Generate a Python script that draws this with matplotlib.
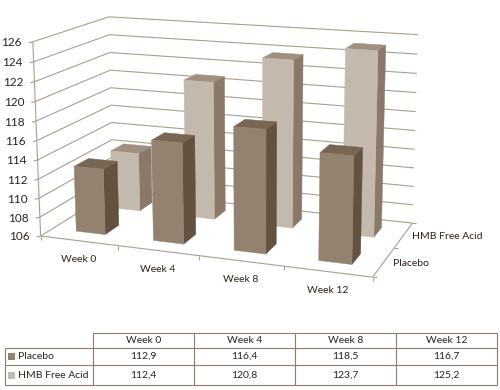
import numpy as np
import matplotlib
matplotlib.use("Agg")
import matplotlib.pyplot as plt
from matplotlib.patches import Polygon, Rectangle

plt.rcParams['font.family'] = ['Lato', 'DejaVu Sans']

#dados
semanas = ["Week 0", "Week 4", "Week 8", "Week 12"]
series = ["Placebo", "HMB Free Acid"]
placebo = [112.9, 116.4, 118.5, 116.7]
hmb = [112.4, 120.8, 123.7, 125.2]
ticks_z = list(range(106, 128, 2))
textos_tabela = [["112,9", "116,4", "118,5", "116,7"], ["112,4", "120,8", "123,7", "125,2"]]

#cores (frente, lado, topo)
cores = {"Placebo": ("#938270", "#645240", "#786553"),
         "HMB Free Acid": ("#C4B9AD", "#8A7968", "#A09080")}
cor_linha = "#AB9D8E"
cor_texto = "#2B2118"

#perspetiva: pontos de referencia do cubo (semana, serie, valor) -> pixel
cubo = [(0, 0, 106), (0, 0, 126), (4, 0, 106), (4, 2, 106), (4, 2, 126), (0, 2, 106), (0, 2, 124), (0, 2, 126)]
pixels = [(41, 236), (33, 41), (372, 278), (413, 222), (418, 35), (113, 191), (110, 35), (108, 17)]

A = []
b = []
for (x, y, z), (u, v) in zip(cubo, pixels):
    A.append([x, y, z, 1, 0, 0, 0, 0, -u*x, -u*y, -u*z])
    A.append([0, 0, 0, 0, x, y, z, 1, -v*x, -v*y, -v*z])
    b += [u, v]
H = np.linalg.lstsq(np.array(A, float), np.array(b, float), rcond=None)[0]
H = np.append(H, 1).reshape(3, 4)


def proj(x, y, z):
    p = H @ np.array([x, y, z, 1.0])
    return p[0]/p[2], p[1]/p[2]


fig = plt.figure(figsize=(5, 3.9), dpi=100)
ax = fig.add_axes([0, 0, 1, 1])
ax.set_xlim(0, 500)
ax.set_ylim(390, 0)
ax.axis("off")


def linha(p0, p1, cor=cor_linha, lw=0.8, z=1):
    ax.plot([p0[0], p1[0]], [p0[1], p1[1]], color=cor, lw=lw, zorder=z, solid_capstyle="butt")


#grelha nas paredes
for v in ticks_z:
    linha(proj(0, 0, v), proj(0, 2, v))
    linha(proj(0, 2, v), proj(4, 2, v))
    #marca e etiqueta do eixo vertical
    px, py = proj(0, 0, v)
    linha((px-4, py+1), (px, py))
    ax.text(px-11, py+1, str(v), ha="right", va="center", fontsize=8.5, color=cor_texto)

linha(proj(0, 0, 106), proj(0, 0, 126))
linha(proj(0, 0, 106), proj(4, 0, 106))
linha(proj(4, 0, 106), proj(4, 2, 106))

#marcas do chao
for i in range(5):
    px, py = proj(i, 0, 106)
    linha((px, py), (px, py+4))
for j in range(3):
    px, py = proj(4, j, 106)
    linha((px, py), (px+4, py))

#etiquetas
for i, s in enumerate(semanas):
    px, py = proj(i+0.5, 0, 106)
    ax.text(px, py+19, s, ha="center", va="center", fontsize=7.5, color=cor_texto)
for j, s in enumerate(series):
    px, py = proj(4, j+0.5, 106)
    ax.text(px+9, py+1, s, ha="left", va="center", fontsize=7.5, color=cor_texto)

#barras
largura = 0.38
prof = 0.38
ordem = 2
for j, (nome, valores) in reversed(list(enumerate(zip(series, [placebo, hmb])))):
    frente, lado, topo = cores[nome]
    for i, v in enumerate(valores):
        x0 = i + 0.5 - largura/2
        x1 = i + 0.5 + largura/2
        y0 = j + 0.5 - prof/2
        y1 = j + 0.5 + prof/2
        ax.add_patch(Polygon([proj(x1, y0, 106), proj(x1, y1, 106), proj(x1, y1, v), proj(x1, y0, v)],
                             fc=lado, ec=lado, lw=0.3, zorder=ordem))
        ax.add_patch(Polygon([proj(x0, y0, v), proj(x1, y0, v), proj(x1, y1, v), proj(x0, y1, v)],
                             fc=topo, ec=topo, lw=0.3, zorder=ordem))
        ax.add_patch(Polygon([proj(x0, y0, 106), proj(x1, y0, 106), proj(x1, y0, v), proj(x0, y0, v)],
                             fc=frente, ec=frente, lw=0.3, zorder=ordem))
        ordem += 1

#tabela
colunas = [93, 194, 295, 396, 497]
filas = [333, 348, 365, 385]
esq = 5
cor_tab = "#8C7D6E"
linha((colunas[0], filas[0]), (colunas[-1], filas[0]), cor_tab)
for f in filas[1:]:
    linha((esq, f), (colunas[-1], f), cor_tab)
linha((esq, filas[1]), (esq, filas[-1]), cor_tab)
for c in colunas:
    linha((c, filas[0]), (c, filas[-1]), cor_tab)
for i, s in enumerate(semanas):
    ax.text((colunas[i]+colunas[i+1])/2, (filas[0]+filas[1])/2, s, ha="center", va="center",
            fontsize=7.5, color=cor_texto)
for j, nome in enumerate(series):
    yc = (filas[j+1]+filas[j+2])/2
    ax.add_patch(Rectangle((8, yc-3.5), 7, 7, fc=cores[nome][0], ec="none"))
    ax.text(18, yc, nome, ha="left", va="center", fontsize=7.5, color=cor_texto)
    for i, t in enumerate(textos_tabela[j]):
        ax.text((colunas[i]+colunas[i+1])/2, yc, t, ha="center", va="center", fontsize=7.5, color=cor_texto)

fig.savefig("out.png", dpi=100)
